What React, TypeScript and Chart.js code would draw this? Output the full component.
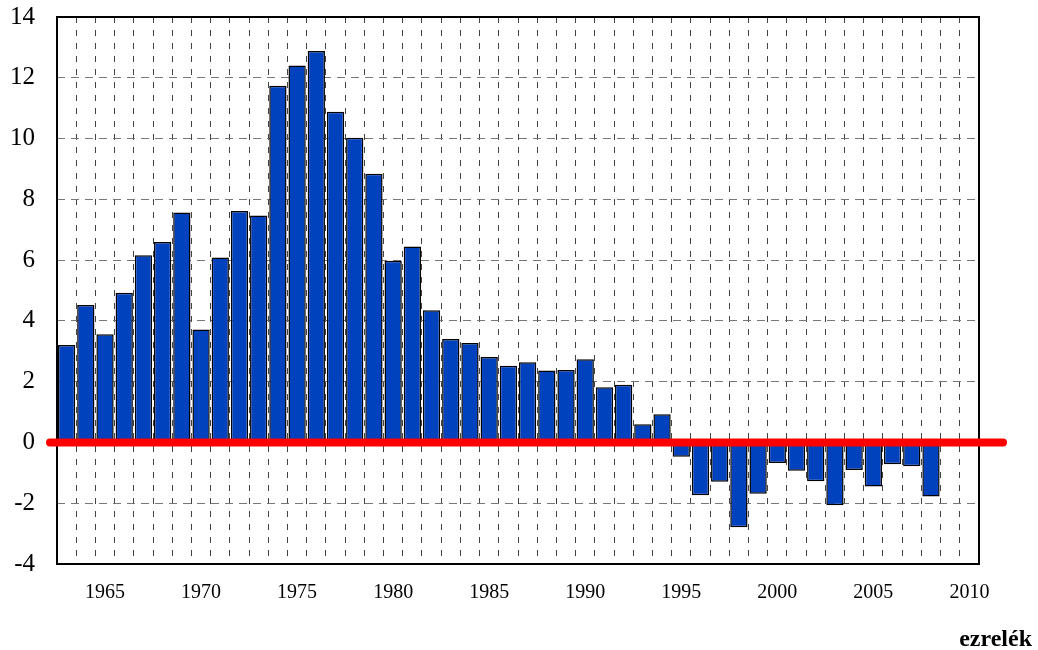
import React, { useEffect, useRef } from "react";
import { Chart, registerables } from "chart.js";

Chart.register(...registerables);

const years = [
  "1963", "1964", "1965", "1966", "1967", "1968", "1969", "1970", "1971", "1972",
  "1973", "1974", "1975", "1976", "1977", "1978", "1979", "1980", "1981", "1982",
  "1983", "1984", "1985", "1986", "1987", "1988", "1989", "1990", "1991", "1992",
  "1993", "1994", "1995", "1996", "1997", "1998", "1999", "2000", "2001", "2002",
  "2003", "2004", "2005", "2006", "2007", "2008", "2009", "2010",
];

const values: (number | null)[] = [
  3.21, 4.52, 3.56, 4.93, 6.16, 6.6, 7.57, 3.72, 6.09, 7.62,
  7.47, 11.74, 12.4, 12.88, 10.88, 10.03, 8.84, 5.98, 6.45, 4.35,
  3.4, 3.27, 2.81, 2.52, 2.64, 2.37, 2.38, 2.74, 1.82, 1.9,
  0.6, 0.93, -0.47, -1.74, -1.29, -2.79, -1.69, -0.68, -0.93, -1.28,
  -2.07, -0.91, -1.45, -0.72, -0.78, -1.78, null, null,
];

const shownYears = ["1965", "1970", "1975", "1980", "1985", "1990", "1995", "2000", "2005", "2010"];
const unitLabel = "ezrelék";
const referenceValue = 0;

const FONT = "'Liberation Serif', 'Times New Roman', serif";

const overlayPlugin = {
  id: "overlay",
  afterDatasetsDraw(chart: any) {
    const { ctx, chartArea, scales } = chart;
    ctx.save();
    ctx.setLineDash([]);
    ctx.strokeStyle = "#000";
    ctx.lineWidth = 2;
    ctx.strokeRect(chartArea.left, chartArea.top, chartArea.right - chartArea.left, chartArea.bottom - chartArea.top);
    const y0 = scales.y.getPixelForValue(referenceValue);
    ctx.strokeStyle = "#ff0000";
    ctx.lineWidth = 8;
    ctx.lineCap = "round";
    ctx.beginPath();
    ctx.moveTo(chartArea.left - 7, y0);
    ctx.lineTo(chartArea.right + 24, y0);
    ctx.stroke();
    ctx.fillStyle = "#000";
    ctx.font = `bold 24px ${FONT}`;
    ctx.textAlign = "right";
    ctx.textBaseline = "alphabetic";
    ctx.fillText(unitLabel, 1032, 646);
    ctx.restore();
  },
};

export default function App() {
  const ref = useRef<HTMLCanvasElement | null>(null);

  useEffect(() => {
    if (!ref.current) return;
    const chart = new Chart(ref.current, {
      type: "bar",
      data: {
        labels: years,
        datasets: [
          {
            data: values,
            backgroundColor: "#0041BE",
            borderColor: "#000",
            borderWidth: 1.5,
            borderSkipped: false,
            barPercentage: 0.9,
            categoryPercentage: 1,
          },
        ],
      },
      options: {
        responsive: false,
        animation: false,
        layout: { padding: { left: 0, top: 17, right: 59, bottom: 0 } },
        plugins: {
          legend: { display: false },
          tooltip: { enabled: false },
          title: { display: false },
        },
        scales: {
          x: {
            type: "category",
            offset: true,
            afterFit: (scale: any) => {
              scale.height = 86;
              scale.paddingLeft = 0;
              scale.paddingRight = 0;
            },
            grid: {
              offset: true,
              color: "#444",
              lineWidth: 1,
              drawTicks: false,
            },
            border: { display: false, dash: [6, 7] },
            ticks: {
              autoSkip: false,
              maxRotation: 0,
              padding: 17,
              color: "#000",
              font: { family: FONT, size: 20 },
              callback: function (this: any, _v: any, i: number) {
                const y = years[i];
                return shownYears.includes(y) ? y : "";
              },
            },
          },
          y: {
            min: -4,
            max: 14,
            afterFit: (scale: any) => {
              scale.width = 57;
              scale.paddingTop = 0;
              scale.paddingBottom = 0;
            },
            grid: {
              color: "#777",
              lineWidth: 1,
              drawTicks: false,
            },
            border: { display: false, dash: [8, 6] },
            ticks: {
              stepSize: 2,
              padding: 22,
              color: "#000",
              font: { family: FONT, size: 25 },
            },
          },
        },
      },
      plugins: [overlayPlugin],
    } as any);
    return () => chart.destroy();
  }, []);

  return (
    <div style={{ position: "fixed", left: 0, top: 0, width: 1038, height: 650, background: "#fff" }}>
      <canvas ref={ref} width={1038} height={650} style={{ width: 1038, height: 650 }} />
    </div>
  );
}
